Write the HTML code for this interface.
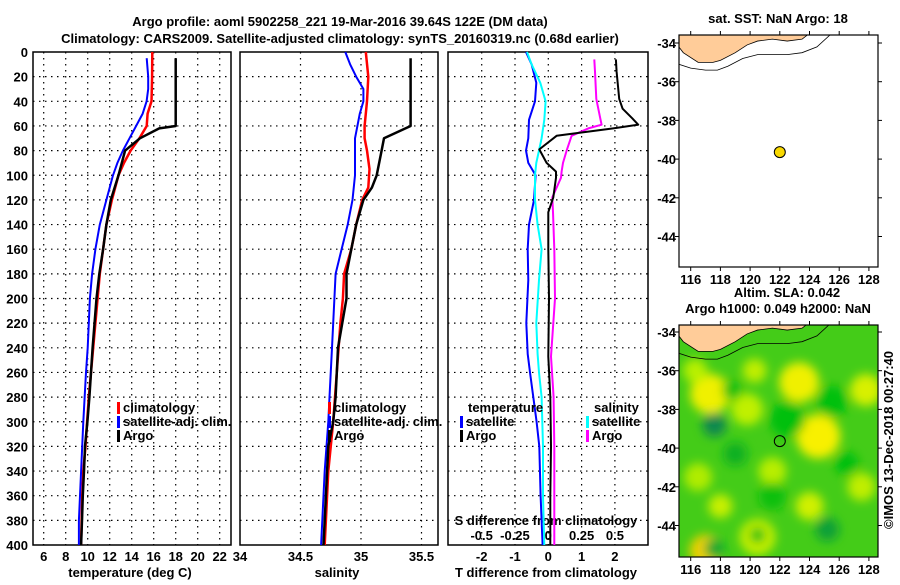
<!DOCTYPE html>
<html><head><meta charset="utf-8"><style>
body{margin:0;background:#fff;width:900px;height:580px;overflow:hidden}
svg text{font-family:"Liberation Sans",sans-serif;font-weight:bold;font-size:13px;fill:#000}
</style></head><body>
<svg id="c" width="900" height="580">
<text x="340" y="26" text-anchor="middle">Argo profile: aoml 5902258_221 19-Mar-2016 39.64S 122E (DM data)</text>
<text x="340" y="43" text-anchor="middle">Climatology: CARS2009. Satellite-adjusted climatology: synTS_20160319.nc (0.68d earlier)</text>
</svg>
<script>
const depthTA=[5,60,62,70,80,100,120,140,160,180,200,240,280,300,320,340,360,380,400];
const tempArgo=[18.0,18.0,16.5,14.75,13.4,12.8,12.1,11.7,11.4,11.05,10.8,10.45,10.15,9.97,9.75,9.66,9.55,9.48,9.4];
const depthC=[0,20,40,50,60,70,80,90,100,120,140,160,180,200,240,280,300,320,340,360,380,400];
const tempClim=[15.87,15.85,15.8,15.45,15.36,14.7,13.9,13.3,12.8,12.2,11.7,11.4,11.1,10.9,10.5,10.1,9.95,9.8,9.6,9.5,9.45,9.4];
const depthS=[5,20,30,40,50,60,70,80,90,100,120,140,160,180,200,240,260,300,340,380,400];
const tempSat=[15.36,15.5,15.5,15.35,15.0,14.4,13.8,13.2,12.7,12.3,11.7,11.1,10.7,10.4,10.2,10.0,9.85,9.6,9.4,9.2,9.2];
const depthSA=[5,60,70,80,100,110,120,140,160,180,200,240,280,300,320,360,400];
const salArgo=[35.41,35.41,35.19,35.17,35.13,35.09,35.02,34.96,34.92,34.88,34.88,34.81,34.79,34.77,34.73,34.71,34.69];
const depthSC=[0,20,40,60,70,80,95,110,120,140,160,180,200,220,260,300,340,400];
const salClim=[35.04,35.06,35.05,35.03,35.03,35.05,35.07,35.06,35.01,34.96,34.92,34.86,34.85,34.83,34.8,34.77,34.73,34.7];
const depthSS=[0,10,20,30,40,50,60,70,100,120,140,160,180,200,240,280,300,340,380,400];
const salSat=[34.87,34.91,34.96,35.02,35.02,34.99,34.97,34.95,34.95,34.93,34.89,34.84,34.79,34.78,34.76,34.74,34.73,34.7,34.68,34.67];
const depthDA=[6,16,38,46,54,59,62,68,79,90,97,102,118,130,160,200,247,280,320,360,400];
const tDiffArgo=[2.03,2.05,2.13,2.23,2.53,2.7,1.95,0.25,-0.27,-0.05,0.23,0.23,0.15,0.0,0.0,0.02,0.0,0.06,0.08,0.06,0.06];
const sDiffArgo=[0.345,0.35,0.36,0.375,0.39,0.40,0.3,0.175,0.14,0.11,0.10,0.095,0.03,0.035,0.045,0.05,0.02,0.04,0.045,0.045,0.045];
const depthDS=[0,10,25,40,55,70,80,90,100,120,140,160,185,220,245,260,280,300,320,360,400];
const tDiffSat=[-0.67,-0.5,-0.36,-0.4,-0.58,-0.6,-0.67,-0.6,-0.38,-0.43,-0.58,-0.62,-0.6,-0.66,-0.62,-0.55,-0.45,-0.35,-0.27,-0.23,-0.17];
const sDiffSat=[-0.16,-0.125,-0.06,-0.02,-0.03,-0.05,-0.07,-0.09,-0.1,-0.1,-0.08,-0.05,-0.07,-0.09,-0.08,-0.07,-0.05,-0.045,-0.04,-0.04,-0.03];
const depthTicks=[0,20,40,60,80,100,120,140,160,180,200,220,240,260,280,300,320,340,360,380,400];
const tempTicks=[6,8,10,12,14,16,18,20,22];
const salTicks=[34,34.5,35,35.5];
const tdTicks=[-2,-1,0,1,2];
const sdTicks=[-0.5,-0.25,0,0.25,0.5];
const sdLabels=["-0.5","-0.25","0","0.25","0.5"];
const lonTicks=[116,118,120,122,124,126,128];
const latTicks=[-34,-36,-38,-40,-42,-44];
const floatLon=122, floatLat=-39.64;

const NS="http://www.w3.org/2000/svg", svg=document.getElementById('c');
function el(t,a,p){const e=document.createElementNS(NS,t);for(const k in a)e.setAttribute(k,a[k]);(p||svg).appendChild(e);return e;}
function txt(x,y,s,anchor,p){const e=el('text',{x:x,y:y,'text-anchor':anchor||'middle'},p);e.textContent=s;return e;}
const Y0=52,Y1=545;
const yD=d=>Y0+d*(Y1-Y0)/400;
const xT=t=>43.7+(t-6)*11;
const xS=s=>300.5+(s-34.5)*121;
const xTD=d=>548.3+d*33.3;
const xSD=s=>548.3+s*133.3;
const panels=[[33,231],[240,438],[448,648]];
function grid(p,xs){
  const [a,b]=panels[p];
  depthTicks.forEach(d=>{if(d>0&&d<400){const l=el('line',{x1:a,x2:b,y1:yD(d),y2:yD(d),stroke:'#000','stroke-width':1.2,'stroke-dasharray':'1.5 4.5'});}});
  xs.forEach(x=>{if(x>a+2&&x<b-2){const l=el('line',{x1:x,x2:x,y1:Y0,y2:Y1,stroke:'#000','stroke-width':1.2,'stroke-dasharray':'1.5 4.5'});}});
  const r=el('rect',{x:a,y:Y0,width:b-a,height:Y1-Y0,fill:'none',stroke:'#000','stroke-width':1.5});
  
}
function line(xs,ds,fx,col,w,name){
  const pts=xs.map((v,i)=>fx(v).toFixed(1)+','+yD(ds[i]).toFixed(1)).join(' ');
  const l=el('polyline',{points:pts,fill:'none',stroke:col,'stroke-width':w,'stroke-linejoin':'round'});
  
}
grid(0,tempTicks.map(xT));grid(1,salTicks.map(xS));grid(2,tdTicks.map(xTD));
depthTicks.forEach(d=>{const t=txt(28,yD(d)+5,String(d),'end');});
tempTicks.forEach(t=>{const e=txt(xT(t),561,String(t));});
salTicks.forEach(t=>{const e=txt(xS(t),561,String(t));});
tdTicks.forEach(t=>{const e=txt(xTD(t),561,String(t));});
sdTicks.forEach((t,i)=>{const e=txt(xSD(t),540,sdLabels[i]);});
let e;
e=txt(130,577,'temperature (deg C)');
e=txt(337,577,'salinity');
e=txt(546,577,'T difference from climatology');
e=txt(546,525,'S difference from climatology');

line(tempClim,depthC,xT,'#f00',2.5,'temp-climatology-line');
line(tempSat,depthS,xT,'#00f',2,'temp-satellite-line');
line(tempArgo,depthTA,xT,'#000',2.5,'temp-argo-line');
line(salClim,depthSC,xS,'#f00',2.5,'sal-climatology-line');
line(salSat,depthSS,xS,'#00f',2,'sal-satellite-line');
line(salArgo,depthSA,xS,'#000',2.5,'sal-argo-line');
line(tDiffSat,depthDS,xTD,'#00f',2,'tdiff-satellite-line');
line(sDiffSat,depthDS,xSD,'#0ff',2,'sdiff-satellite-line');
line(sDiffArgo,depthDA,xSD,'#f0f',2,'sdiff-argo-line');
line(tDiffArgo,depthDA,xTD,'#000',2,'tdiff-argo-line');

function leg(x,y,col,label,name){
  const g=el('g',{});
  el('rect',{x:x,y:y-10,width:3,height:12,fill:col},g);txt(x+6,y,label,'start',g);
}
leg(117,412,'#f00','climatology','legend-climatology');
leg(117,426,'#00f','satellite-adj. clim.','legend-satellite');
leg(117,440,'#000','Argo','legend-argo');
leg(328,412,'#f00','climatology','legend-climatology-sal');
leg(328,426,'#00f','satellite-adj. clim.','legend-satellite-sal');
leg(328,440,'#000','Argo','legend-argo-sal');
e=txt(468,412,'temperature','start');
leg(460,426,'#00f','satellite','legend-tdiff-satellite');
leg(460,440,'#000','Argo','legend-tdiff-argo');
e=txt(594,412,'salinity','start');
leg(586,426,'#0ff','satellite','legend-sdiff-satellite');
leg(586,440,'#f0f','Argo','legend-sdiff-argo');

// maps
const MX0=679,MX1=878;
const lx=l=>690.7+(l-116)*14.85;
function makeMap(top,bot,lat34,title1,title2,green,name){
  const ly=l=>lat34+(-34-l)*19.35;
  const g=el('g',{});
  const cid='clip'+name;
  const cp=el('clipPath',{id:cid},g);el('rect',{x:MX0,y:top,width:MX1-MX0,height:bot-top},cp);
  const inner=el('g',{'clip-path':'url(#'+cid+')'},g);
  if(green){
    el('rect',{x:MX0,y:top,width:MX1-MX0,height:bot-top,fill:'#44cc18'},inner);
    const blobs=[[117.3,-37.2,'#f0f000',20],[123.3,-36.6,'#f0f000',20],[124.6,-39.4,'#f8f000',22],[119.8,-38,'#c0f000',16],[117,-45.3,'#f0d000',16],[127.8,-37,'#d8f000',16],[120.5,-44.6,'#c8f000',18],[116.5,-41.5,'#b0ec00',14],[121.5,-41.2,'#b8ee00',14],[124,-43,'#d0f000',14],[127.5,-42,'#c0ee00',14],[120.3,-36,'#c0ee00',12],[116.3,-36,'#b8f000',12],[118,-43,'#c8f000',12],
    [117.6,-38.8,'#108850',12],[119,-40.3,'#10b020',12],[125.2,-44.2,'#10a038',12],[117.6,-45.2,'#10a830',10],[122.5,-38.5,'#00c010',18],[125.5,-37.6,'#00c010',16],[121.5,-42.5,'#10c010',14],[118.8,-37,'#10c010',10],[126.5,-40.8,'#00c010',12],[120.5,-44.5,'#00c010',8]];
    const f=el('filter',{id:'bl',x:'-50%',y:'-50%',width:'200%',height:'200%'},g);el('feGaussianBlur',{stdDeviation:5},f);
    const bg=el('g',{filter:'url(#bl)'},inner);
    blobs.forEach(b=>el('circle',{cx:lx(b[0]),cy:ly(b[1]),r:b[3],fill:b[2]},bg));
  } else el('rect',{x:MX0,y:top,width:MX1-MX0,height:bot-top,fill:'#fff'},inner);
  const coast=[[115.2,-34.2],[115.5,-34.5],[116.5,-35],[117.5,-35],[118,-34.9],[119,-34.5],[119.8,-34.1],[120.5,-33.9],[121.5,-33.8],[122.5,-33.9],[123.5,-33.8],[124,-33.5],[115.2,-33.5]];
  el('polygon',{points:coast.map(p=>lx(p[0])+','+ly(p[1])).join(' '),fill:'#ffcc99',stroke:'#000','stroke-width':0.8},inner);
  const iso=[[115.2,-35.1],[116,-35.3],[117,-35.4],[117.8,-35.4],[118.5,-35.2],[119.5,-34.8],[120.5,-34.6],[121.5,-34.6],[122.5,-34.6],[123.5,-34.5],[124.5,-34.2],[125.5,-33.5]];
  el('polyline',{points:iso.map(p=>lx(p[0])+','+ly(p[1])).join(' '),fill:'none',stroke:'#000','stroke-width':0.8},inner);
  el('rect',{x:MX0,y:top,width:MX1-MX0,height:bot-top,fill:'none',stroke:'#000','stroke-width':1.2},g);
  lonTicks.forEach(l=>{el('line',{x1:lx(l),x2:lx(l),y1:top,y2:top-4,stroke:'#000'},g);el('line',{x1:lx(l),x2:lx(l),y1:bot,y2:bot+4,stroke:'#000'},g);const t=txt(lx(l),bot+17,String(l),'middle',g);});
  latTicks.forEach(l=>{el('line',{x1:MX0,x2:MX0-4,y1:ly(l),y2:ly(l),stroke:'#000'},g);el('line',{x1:MX1,x2:MX1+4,y1:ly(l),y2:ly(l),stroke:'#000'},g);const t=txt(676,ly(l)+5,String(l),'end',g);});
  el('circle',{cx:lx(floatLon),cy:ly(floatLat),r:5.5,fill:green?'none':'#f8d800',stroke:'#000','stroke-width':1},g);
  const t1=txt(778,top-12,title1,'middle',g);
  if(title2){const t2=txt(787,top-28,title2,'middle',g);}
}
makeMap(35,267,43,'sat. SST: NaN Argo: 18',null,false,'sst-map');
makeMap(325,557,332,'Argo h1000: 0.049 h2000: NaN','Altim. SLA: 0.042',true,'sla-map');
e=el('text',{x:0,y:0,transform:'translate(893,440) rotate(-90)','text-anchor':'middle'});e.textContent='©IMOS 13-Dec-2018 00:27:40';

</script>
</body></html>
